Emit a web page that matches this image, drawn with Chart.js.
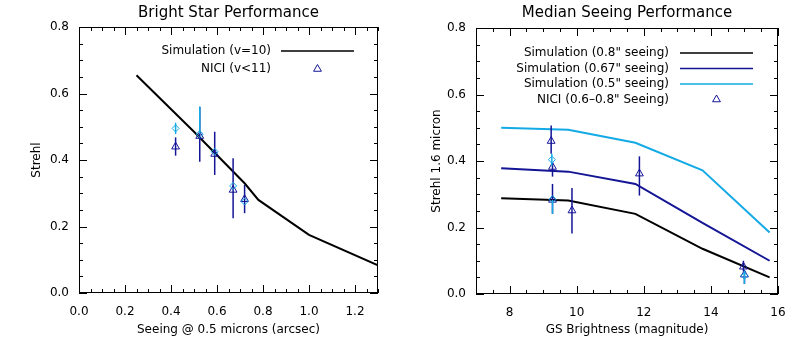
<!DOCTYPE html>
<html>
<head>
<meta charset="utf-8">
<script src="https://cdn.jsdelivr.net/npm/chart.js@4"></script>
<style>
  body { margin: 0; background: #fff; }
  .panel { position: absolute; top: 0; width: 400px; height: 350px; }
</style>
</head>
<body>
<div class="panel" style="left:0"><canvas id="bright" width="400" height="350"></canvas></div>
<div class="panel" style="left:400px"><canvas id="median" width="400" height="350"></canvas></div>
<script>
// left panel: bright star performance
const seeingSim = [0.25, 0.50, 0.72, 0.78, 1.00, 1.30];
const strehlSimV10 = [0.655, 0.485, 0.33, 0.28, 0.175, 0.083];

const seeingNici = [0.42, 0.525, 0.59, 0.67, 0.72];
const strehlTri = [0.44, 0.472, 0.418, 0.31, 0.282];
const triLo = [0.413, 0.395, 0.355, 0.225, 0.24];
const triHi = [0.468, 0.56, 0.485, 0.405, 0.325];
const strehlDia = [0.495, 0.478, 0.425, 0.322, 0.275];
const diaLo = [0.478, 0.478, null, null, null];
const diaHi = [0.512, 0.56, null, null, null];

// right panel: median seeing performance
const magSim = [7.75, 9.75, 11.75, 13.75, 15.75];
const sim08 = [0.288, 0.281, 0.241, 0.136, 0.05];
const sim067 = [0.378, 0.368, 0.331, 0.214, 0.10];
const sim05 = [0.50, 0.494, 0.455, 0.372, 0.185];

const magNici = [9.24, 9.28, 9.28, 9.86, 11.87, 14.97, 15.0];
const niciTri = [0.46, 0.382, 0.283, 0.251, 0.362, 0.082, 0.058];
const niciTriLo = [0.422, 0.353, 0.241, 0.182, 0.296, 0.068, 0.03];
const niciTriHi = [0.507, 0.397, 0.331, 0.319, 0.414, 0.10, 0.07];
const magDia = [9.26, 9.28, 15.0];
const niciDia = [0.404, 0.285, 0.055];
const niciDiaLo = [0.386, 0.241, 0.03];
const niciDiaHi = [0.422, 0.283, 0.07];

const NAVY = 'rgb(20,20,150)';
const CYAN = 'rgb(20,170,230)';
const FONT = '"DejaVu Sans", sans-serif';

const pts = (xs, ys) => xs.map((x, i) => ({x: x, y: ys[i]}));

// IDL style box with inward ticks on all four sides
const boxTicks = {
  id: 'boxTicks',
  afterDraw(chart, args, o) {
    const {ctx, chartArea: a} = chart;
    const sx = chart.scales.x, sy = chart.scales.y;
    ctx.save();
    ctx.strokeStyle = '#000';
    ctx.lineWidth = 1;
    ctx.strokeRect(a.left + 0.5, a.top + 0.5, a.width - 1, a.height - 1);
    const isMajor = (s, v) => s.ticks.some(t => Math.abs(t.value - v) < 1e-6);
    ctx.beginPath();
    for (let v = sx.min; v <= sx.max + 1e-9; v += o.xMinor) {
      const p = Math.round(sx.getPixelForValue(v)) + 0.5;
      const len = isMajor(sx, v) ? 8 : 4;
      ctx.moveTo(p, a.bottom); ctx.lineTo(p, a.bottom - len);
      ctx.moveTo(p, a.top); ctx.lineTo(p, a.top + len);
    }
    for (let v = sy.min; v <= sy.max + 1e-9; v += o.yMinor) {
      const p = Math.round(sy.getPixelForValue(v)) + 0.5;
      const len = isMajor(sy, v) ? 8 : 4;
      ctx.moveTo(a.left, p); ctx.lineTo(a.left + len, p);
      ctx.moveTo(a.right, p); ctx.lineTo(a.right - len, p);
    }
    ctx.stroke();
    ctx.restore();
  }
};

// vertical error bars read from dataset.errLo / errHi
const errorBars = {
  id: 'errorBars',
  beforeDatasetDraw(chart, args) {
    const ds = chart.data.datasets[args.index];
    if (!ds.errLo) return;
    const sy = chart.scales.y, ctx = chart.ctx;
    ctx.save();
    ctx.strokeStyle = ds.borderColor;
    ctx.lineWidth = 1.5;
    args.meta.data.forEach((pt, i) => {
      if (ds.errLo[i] == null) return;
      ctx.beginPath();
      ctx.moveTo(pt.x, sy.getPixelForValue(ds.errLo[i]));
      ctx.lineTo(pt.x, sy.getPixelForValue(ds.errHi[i]));
      ctx.stroke();
    });
    ctx.restore();
  }
};

// legend inside the plot: text right-aligned, symbol to its right
const sideLegend = {
  id: 'sideLegend',
  afterDraw(chart, args, o) {
    const ctx = chart.ctx;
    ctx.save();
    ctx.font = '12px ' + FONT;
    ctx.textAlign = 'right';
    ctx.textBaseline = 'middle';
    o.rows.forEach((idx, k) => {
      const ds = chart.data.datasets[idx];
      const y = o.top + k * o.step;
      ctx.fillStyle = '#000';
      ctx.fillText(ds.label, o.textRight, y);
      ctx.strokeStyle = ds.borderColor;
      if (ds.showLine) {
        ctx.lineWidth = 1.5;
        ctx.beginPath();
        ctx.moveTo(o.lineFrom, y); ctx.lineTo(o.lineTo, y);
        ctx.stroke();
      } else {
        ctx.fillStyle = 'rgba(0,0,0,0)';
        ctx.lineWidth = 1;
        Chart.helpers.drawPoint(ctx, {pointStyle: ds.pointStyle, radius: ds.pointRadius, borderWidth: 1, rotation: 0},
          (o.lineFrom + o.lineTo) / 2, y);
      }
    });
    ctx.restore();
  }
};

function simLine(label, data, color, order) {
  return {label: label, data: data, showLine: true, borderColor: color, borderWidth: 2,
    pointRadius: 0, order: order};
}
function markers(label, data, color, style, r, lo, hi, order) {
  return {label: label, data: data, showLine: false, borderColor: color, backgroundColor: 'rgba(0,0,0,0)',
    pointStyle: style, pointRadius: r, pointBorderWidth: 1, errLo: lo, errHi: hi, order: order};
}

function axes(c) {
  return {
    x: {
      type: 'linear', min: c.xMin, max: c.xMax,
      grid: {display: false, drawTicks: false}, border: {display: false},
      ticks: {stepSize: c.xStep, includeBounds: false, padding: 12, color: '#000', maxRotation: 0,
        autoSkip: false, font: {family: FONT, size: 12}, callback: c.xFmt},
      title: {display: true, text: c.xTitle, color: '#000', font: {family: FONT, size: 12},
        padding: {top: 0, bottom: 13}},
      afterFit: s => { s.height = c.bottomH; }
    },
    y: {
      type: 'linear', min: 0, max: 0.8,
      grid: {display: false, drawTicks: false}, border: {display: false},
      ticks: {stepSize: 0.2, includeBounds: false, padding: 10, color: '#000',
        font: {family: FONT, size: 12}, callback: v => v.toFixed(1)},
      title: {display: true, text: c.yTitle, color: '#000', font: {family: FONT, size: 12},
        padding: {top: 30, bottom: 0}},
      afterFit: s => { s.width = c.leftW; }
    }
  };
}

new Chart(document.getElementById('bright'), {
  type: 'scatter',
  data: {
    datasets: [
      markers('NICI dia', pts(seeingNici, strehlDia), CYAN, 'rectRot', 3.5, diaLo, diaHi, 0),
      markers('NICI (v<11)', pts(seeingNici, strehlTri), NAVY, 'triangle', 4.5, triLo, triHi, 1),
      simLine('Simulation (v=10)', pts(seeingSim, strehlSimV10), '#000', 2)
    ]
  },
  options: {
    responsive: false,
    animation: false,
    layout: {padding: {left: 0, right: 22, top: 0, bottom: 0}},
    scales: axes({xMin: 0, xMax: 1.3, xStep: 0.2, xFmt: v => v.toFixed(1), bottomH: 57, leftW: 79,
      xTitle: 'Seeing @ 0.5 microns (arcsec)', yTitle: 'Strehl'}),
    plugins: {
      legend: {display: false},
      tooltip: {enabled: false},
      title: {display: true, text: 'Bright Star Performance', fullSize: false, color: '#000',
        font: {family: FONT, size: 15, weight: 'normal'}, padding: {top: 4, bottom: 5}},
      boxTicks: {xMinor: 0.05, yMinor: 0.05},
      sideLegend: {rows: [2, 1], top: 51, step: 18, textRight: 271, lineFrom: 281, lineTo: 354}
    }
  },
  plugins: [boxTicks, errorBars, sideLegend]
});

new Chart(document.getElementById('median'), {
  type: 'scatter',
  data: {
    datasets: [
      markers('NICI dia', pts(magDia, niciDia), CYAN, 'rectRot', 3.5, niciDiaLo, niciDiaHi, 0),
      markers('NICI (0.6\u20130.8" Seeing)', pts(magNici, niciTri), NAVY, 'triangle', 4.5, niciTriLo, niciTriHi, 1),
      simLine('Simulation (0.8" seeing)', pts(magSim, sim08), '#000', 2),
      simLine('Simulation (0.67" seeing)', pts(magSim, sim067), NAVY, 3),
      simLine('Simulation (0.5" seeing)', pts(magSim, sim05), CYAN, 4)
    ]
  },
  options: {
    responsive: false,
    animation: false,
    layout: {padding: {left: 0, right: 22, top: 0, bottom: 0}},
    scales: axes({xMin: 7, xMax: 16, xStep: 2, xFmt: v => String(v), bottomH: 56, leftW: 76,
      xTitle: 'GS Brightness (magnitude)', yTitle: 'Strehl 1.6 micron'}),
    plugins: {
      legend: {display: false},
      tooltip: {enabled: false},
      title: {display: true, text: 'Median Seeing Performance', fullSize: false, color: '#000',
        font: {family: FONT, size: 15, weight: 'normal'}, padding: {top: 4, bottom: 6}},
      boxTicks: {xMinor: 0.5, yMinor: 0.05},
      sideLegend: {rows: [2, 3, 4, 1], top: 53, step: 15.5, textRight: 269, lineFrom: 280, lineTo: 353}
    }
  },
  plugins: [boxTicks, errorBars, sideLegend]
});
</script>
</body>
</html>
